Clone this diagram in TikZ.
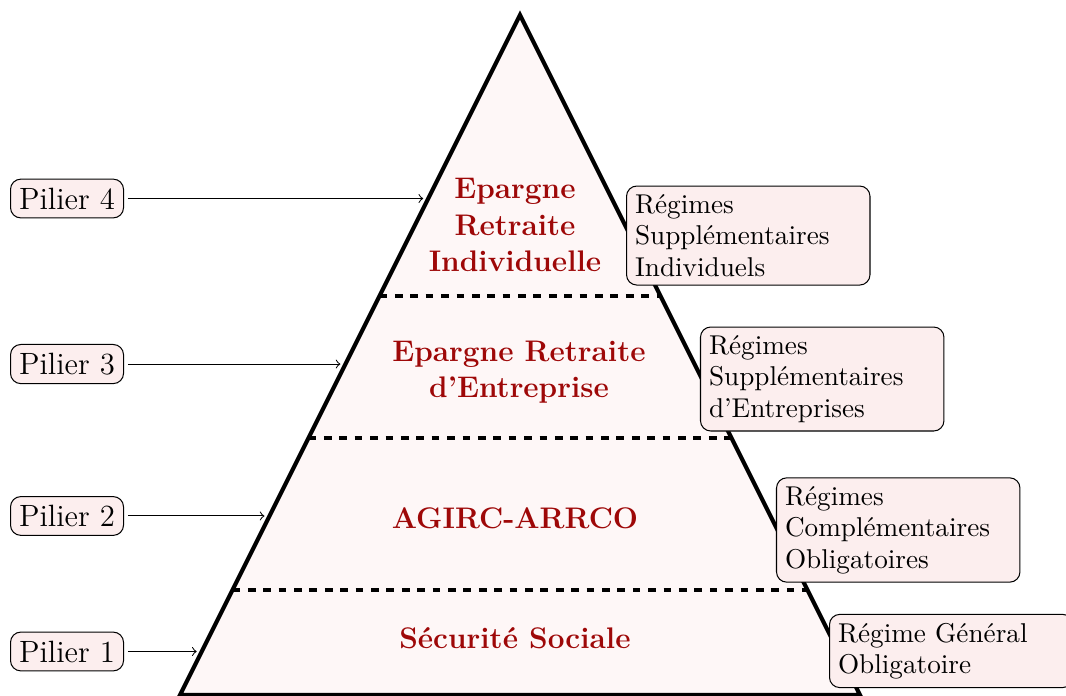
\documentclass[tikz,border=0pt]{standalone}
\usepackage{tikz}
\usetikzlibrary{positioning}
\usepackage{xcolor}
\definecolor{rougefonce}{RGB}{158,8,8}
\definecolor{rosepale}{RGB}{254,247,247}
\definecolor{roseboite}{RGB}{252,238,238}
\tikzset{%
    pilier/.style={draw, rounded corners, fill=roseboite, font=\large},
    regime/.style={draw, rounded corners, fill=roseboite, anchor=west,
        text width=3.1cm, align=left, font=\fontsize{10.6}{12.2}\selectfont},
    etage/.style={text=rougefonce, font=\fontsize{11.6}{14.2}\selectfont\bfseries,
        align=center},
    fleche/.style={->, shorten <=1.5pt, shorten >=2pt}
}

\begin{document}
\begin{tikzpicture}
    \useasboundingbox (0,0) rectangle (14.6,9.519);
    % la pyramide
    \coordinate (sommet) at (7.122,9.313);
    \coordinate (bg) at (2.465,0);
    \coordinate (bd) at (11.779,0);
    \draw[ultra thick, fill=rosepale] (bg) -- (sommet) -- (bd) -- cycle;
    \draw[very thick, dashed] (3.184,1.438) -- (11.060,1.438);
    \draw[very thick, dashed] (4.226,3.520) -- (10.019,3.520);
    \draw[very thick, dashed] (5.198,5.465) -- (9.046,5.465);
%    \draw[very thick, dashed] (6.0,7.5) -- (8.2,7.5);
    \node[etage] (e4) at (7.053,6.437) {Epargne\\Retraite\\Individuelle};
    \node[etage] (e3) at (7.108,4.424) {Epargne Retraite\\d'Entreprise};
    \node[etage] (e2) at (7.053,2.424) {AGIRC-ARRCO};
    \node[etage] (e1) at (7.053,0.781) {S\'ecurit\'e Sociale};
    % les piliers a gauche
    \node[pilier] (p4) at (0.918,6.800) {Pilier 4};
    \node[pilier] (p3) at (0.918,4.533) {Pilier 3};
    \node[pilier] (p2) at (0.918,2.452) {Pilier 2};
    \node[pilier] (p1) at (0.918,0.596) {Pilier 1};
    \coordinate (f4) at (5.866,6.800);
    \coordinate (f3) at (4.732,4.533);
    \coordinate (f2) at (3.692,2.452);
    \coordinate (f1) at (2.764,0.596);
    \draw[fleche] (p4) -- (f4);
    \draw[fleche] (p3) -- (f3);
    \draw[fleche] (p2) -- (f2);
    \draw[fleche] (p1) -- (f1);
    % les regimes a droite
    \node[regime] (r4) at (8.574,6.293) {R\'egimes\\Suppl\'ementaires\\Individuels};
    \node[regime] (r3) at (9.587,4.328) {R\'egimes\\Suppl\'ementaires\\d'Entreprises};
    \node[regime] (r2) at (10.628,2.260) {R\'egimes\\Compl\'ementaires\\Obligatoires};
    \node[regime] (r1) at (11.354,0.603) {R\'egime G\'en\'eral\\Obligatoire};
\end{tikzpicture}
\end{document}
